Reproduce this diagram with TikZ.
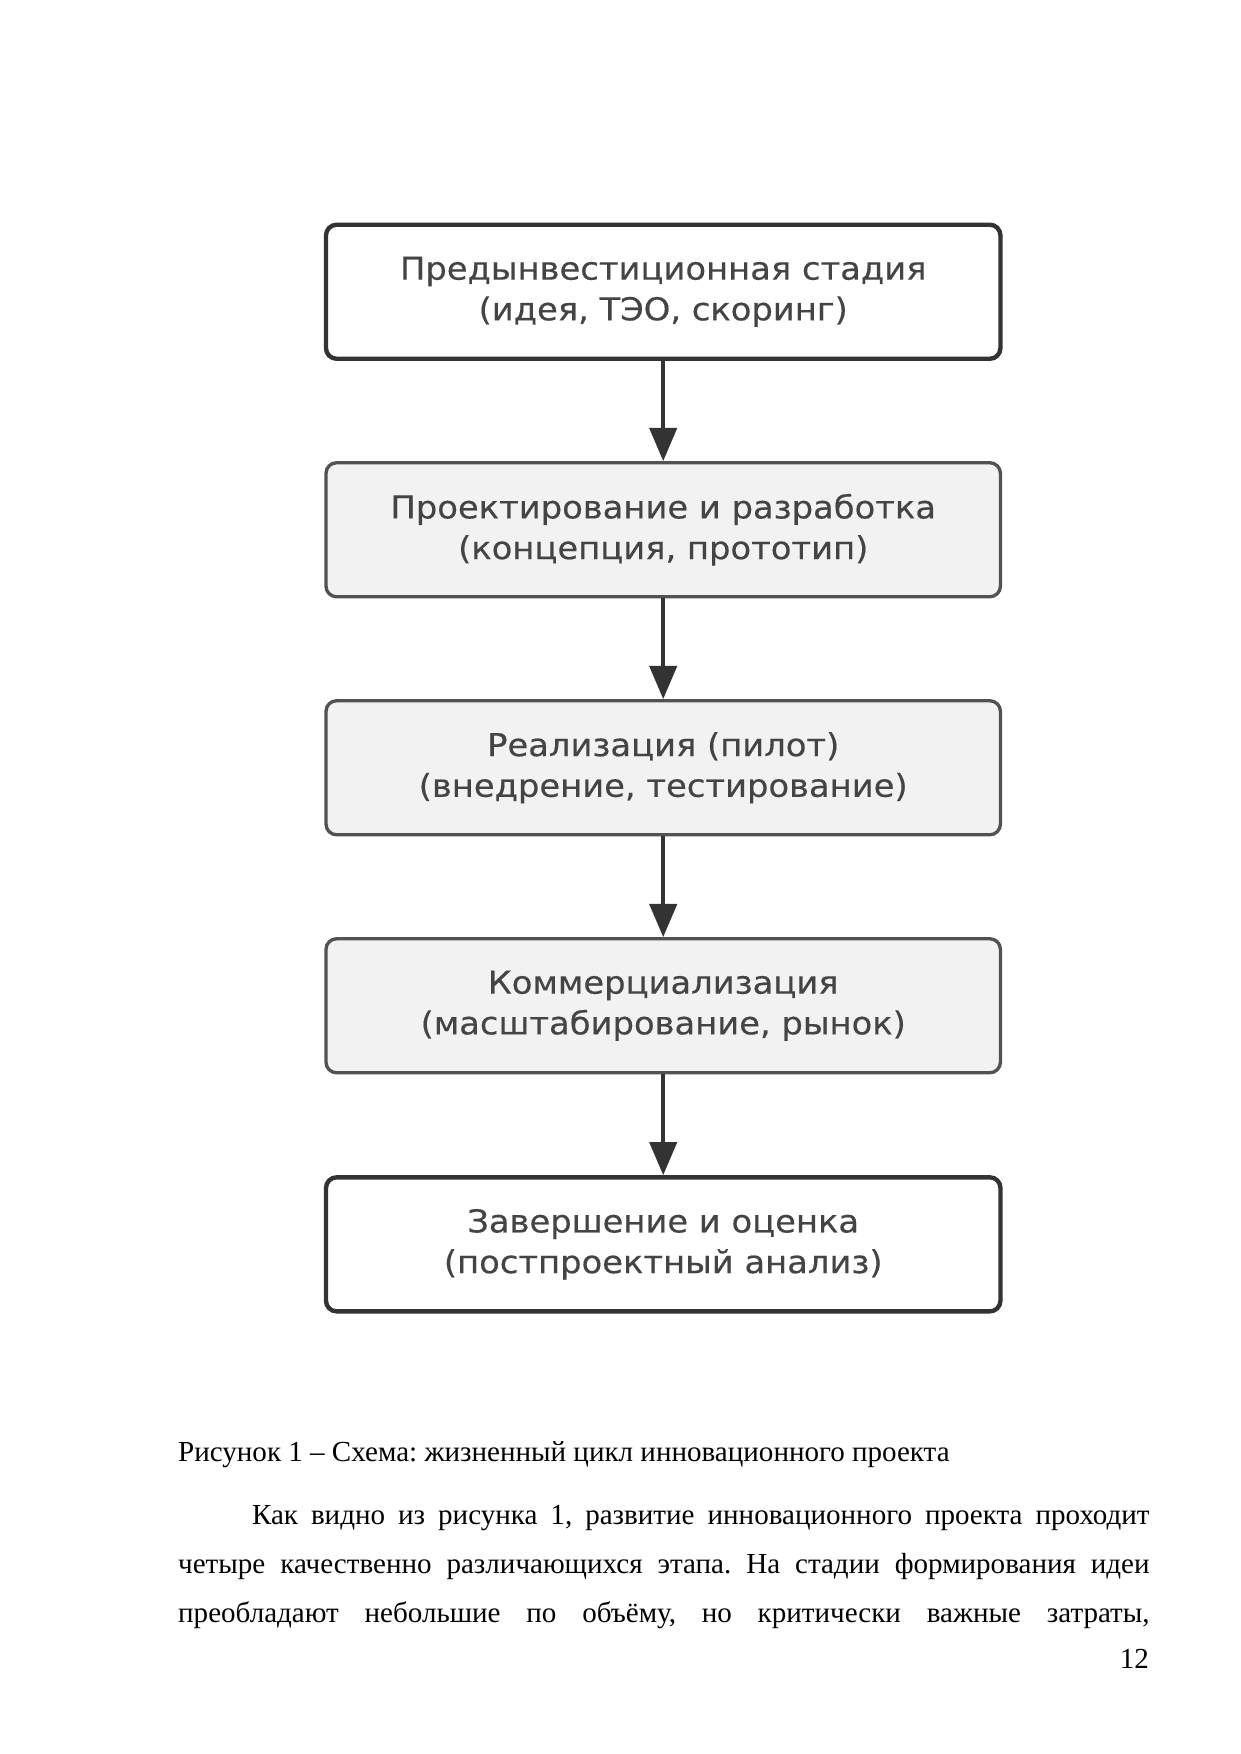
\documentclass[tikz,border=0pt]{standalone}
\usepackage{fontspec}
\setmainfont{Liberation Serif}
\newfontfamily\boxfont[FakeStretch=1.07, FakeBold=0.4]{DejaVu Sans}
\usepackage{xcolor}
\usetikzlibrary{arrows.meta}
\frenchspacing

\definecolor{boxline}{HTML}{333333}
\definecolor{boxgrey}{HTML}{F2F2F2}
\definecolor{boxtext}{HTML}{444444}

\tikzset{
	stage/.style={draw=boxline, line width=2.1pt, rounded corners=1.8mm, fill=white,
		minimum width=114.2mm, minimum height=22.7mm, inner sep=0pt, align=center,
		text=boxtext, font=\boxfont\fontsize{15.2pt}{19.6pt}\selectfont},
	stagegrey/.style={stage, draw=boxline!85!white, line width=1.6pt, fill=boxgrey},
	flow/.style={draw=boxline, line width=1.8pt, -{Triangle[length=5.6mm,width=4.6mm]}},
	pagetext/.style={font=\fontsize{14pt}{23.76pt}\selectfont, inner sep=0pt}
}

\begin{document}
\begin{tikzpicture}[x=1mm, y=1mm]
	\useasboundingbox (0,0) rectangle (210,-297);

	% Define the stages of the project with specific positions
	\begin{scope}[xshift=112.3mm, yshift=-0.3mm]
		\node[stage] (pre) at (0, -49.1) {Предынвестиционная стадия\\(идея, ТЭО, скоринг)};
		\node[stagegrey] (design) at (0, -89.4) {Проектирование и разработка\\(концепция, прототип)};
		\node[stagegrey] (pilot) at (0, -129.7) {Реализация (пилот)\\(внедрение, тестирование)};
		\node[stagegrey] (market) at (0, -170.0) {Коммерциализация\\(масштабирование, рынок)};
		\node[stage] (close) at (0, -210.4) {Завершение и оценка\\(постпроектный анализ)};

		% Draw the arrows between the stages
		\draw[flow] (pre) -- (design);
		\draw[flow] (design) -- (pilot);
		\draw[flow] (pilot) -- (market);
		\draw[flow] (market) -- (close);
	\end{scope}

	% Caption and the text below it
	\node[pagetext, anchor=base west] (caption) at (30.1, -247.4)
		{Рисунок 1 – Схема: жизненный цикл инновационного проекта};
	\node[pagetext, anchor=base west, text width=164.5mm, align=justify] (para) at (30.1, -258.1)
		{\parfillskip=0pt\hspace*{12.5mm}Как видно из рисунка 1, развитие инновационного проекта проходит\linebreak
		четыре качественно различающихся этапа. На стадии формирования идеи\linebreak
		преобладают небольшие по объёму, но критически важные затраты,\par};
	\node[pagetext, anchor=base east] (pagenum) at (194.6, -282.6) {12};
\end{tikzpicture}
\end{document}
